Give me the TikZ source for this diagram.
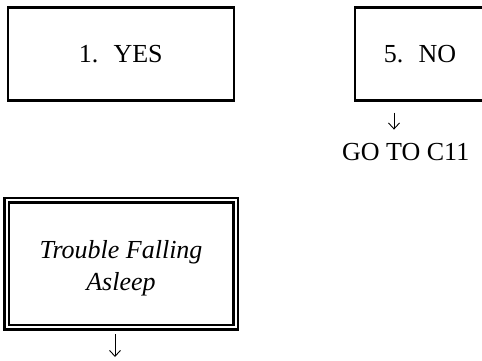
\documentclass[tikz,border=0pt]{standalone}
\usepackage{fontspec}
\setmainfont{Liberation Serif}
\usepackage{tikz}
\usetikzlibrary{arrows.meta}

\begin{document}
\begin{tikzpicture}[x=1pt,y=-1pt,
    txt/.style={font=\fontsize{26}{32}\selectfont, inner sep=0pt},
    answer/.style={txt, draw, line width=2.6pt, minimum width=226pt, minimum height=93pt},
    section/.style={txt, draw, double, line width=2.5pt, double distance=2pt,
      minimum width=229pt, minimum height=127pt, align=center},
    arr/.style={-{Straight Barb[length=6pt,width=11pt]}, line width=0.9pt}]
  \useasboundingbox (0,0) rectangle (482,360);

  \node[answer] (yes) at (120.8,53.7) {1.~ YES};
  \node[answer, minimum width=130pt] (no) at (420,53.7) {5.~ NO};
  \node[txt, anchor=base] (goto) at (405.7,160) {GO TO C11};

  \node[section] (trouble) at (121,263.9) {\rule{0pt}{27pt}\itshape Trouble Falling\\ \itshape Asleep};
  \coordinate (next) at (115,357);

  \draw[arr, shorten <=11pt, shorten >=13pt] ([xshift=-26pt]no.south) -- ([xshift=-26pt]no.south |- goto.north);
  \draw[arr, shorten <=5.6pt] ([xshift=-6pt]trouble.south) -- (next);
\end{tikzpicture}
\end{document}
